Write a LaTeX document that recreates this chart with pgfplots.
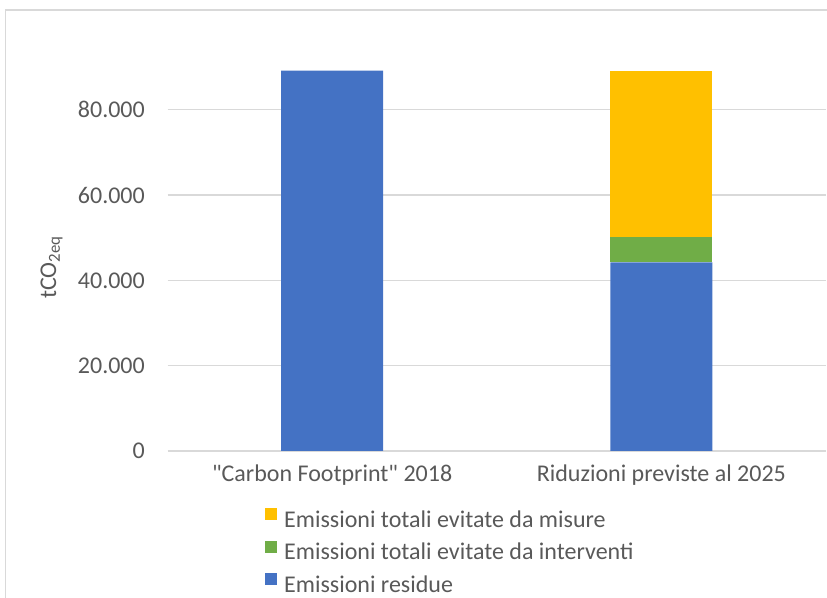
\documentclass[border=0pt]{standalone}
\usepackage{pgfplots}
\pgfplotsset{compat=1.18}
\usepackage{fontspec}
\setmainfont{Carlito}

\definecolor{resblue}{HTML}{4472C4}
\definecolor{intgreen}{HTML}{70AD47}
\definecolor{misyellow}{HTML}{FFC000}
\definecolor{gridgray}{HTML}{D9D9D9}
\definecolor{textgray}{HTML}{595959}

\begin{document}
\begin{tikzpicture}
\useasboundingbox (0bp,0bp) rectangle (827bp,598bp);
% chart frame (left and top edges)
\draw[gridgray, line width=1.3bp] (5.5bp,-10bp) -- (5.5bp,588bp) -- (840bp,588bp);
\begin{axis}[
  at={(167.5bp,147bp)}, anchor=south west,
  scale only axis, width=658.5bp, height=426.5bp,
  xmin=-0.5, xmax=1.5, ymin=0, ymax=100000,
  scaled y ticks=false,
  ybar stacked, bar width=0.31,
  axis line style={draw=none},
  major tick length=0, tick style={draw=none},
  ymajorgrids, grid style={gridgray, line width=1.3bp},
  xtick={0,1},
  xticklabels={{\textquotedbl Carbon Footprint\textquotedbl{} 2018},{Riduzioni previste al 2025}},
  ytick={0,20000,40000,60000,80000},
  yticklabels={0,20.000,40.000,60.000,80.000},
  every tick label/.append style={font=\fontsize{24bp}{28bp}\selectfont, text=textgray, inner sep=0pt},
  xticklabel style={anchor=base, yshift=-30bp},
  yticklabel style={anchor=east, xshift=-22.5bp},
  ylabel={tCO\textsubscript{2eq}},
  ylabel style={at={(axis description cs:-0.169,0.43)}, anchor=base, rotate=0,
    font=\fontsize{24bp}{28bp}\selectfont, text=textgray, inner sep=0pt},
  legend style={at={(axis description cs:0.148,-0.1333)}, anchor=north west,
    draw=none, fill=none, inner sep=0pt, row sep=11.5bp, column sep=7bp,
    font=\fontsize{24bp}{28bp}\selectfont, text=textgray,
    nodes={inner sep=0pt, text height=16bp, text depth=2bp}},
  legend cell align=left,
  reverse legend,
  area legend,
  legend image code/.code={\fill[#1] (0bp,0bp) rectangle (12bp,12bp);},
]
\addplot[fill=resblue, draw=none] coordinates {(0,89200) (1,44200)};
\addlegendentry{Emissioni residue}
\addplot[fill=intgreen, draw=none] coordinates {(0,0) (1,6000)};
\addlegendentry{Emissioni totali evitate da interventi}
\addplot[fill=misyellow, draw=none] coordinates {(0,0) (1,39000)};
\addlegendentry{Emissioni totali evitate da misure}
\end{axis}
\end{tikzpicture}
\end{document}
